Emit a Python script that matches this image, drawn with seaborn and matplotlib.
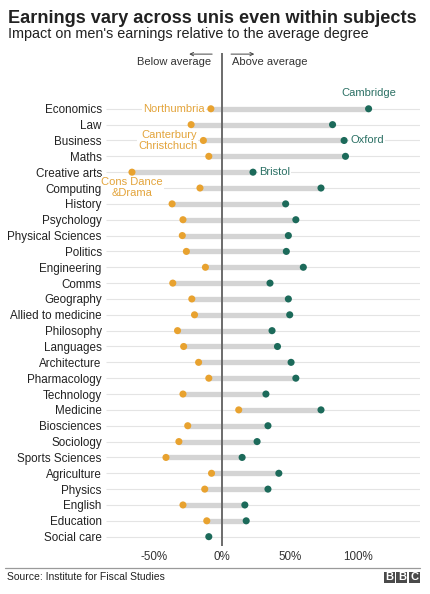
import numpy as np
import pandas as pd
import matplotlib
matplotlib.use("Agg")
from matplotlib import pyplot as plt
from matplotlib.patches import Rectangle
import seaborn as sns

# ---------------- DATA ---------------------------------------
subjects = ["Economics", "Law", "Business", "Maths", "Creative arts", "Computing",
            "History", "Psychology", "Physical Sciences", "Politics", "Engineering",
            "Comms", "Geography", "Allied to medicine", "Philosophy", "Languages",
            "Architecture", "Pharmacology", "Technology", "Medicine", "Biosciences",
            "Sociology", "Sports Sciences", "Agriculture", "Physics", "English",
            "Education", "Social care"]
lowest = [-8, -22.5, -13.5, -9.5, -66, -16, -36.5, -28.5, -29, -26, -12, -36,
          -22, -20, -32.5, -28, -17, -9.5, -28.5, 12.5, -25, -31.5, -41, -7.5,
          -12.5, -28.5, -11, np.nan]
highest = [108, 81.5, 90, 91, 23, 73, 47, 54.5, 49, 47.5, 60, 35.5, 49, 50, 37,
           41, 51, 54.5, 32.5, 73, 34, 26, 15, 42, 34, 17, 18, -9.5]
xticks = [-50, 0, 50, 100]
xticklabels = ["-50%", "0%", "50%", "100%"]

# uni names next to the lowest / highest dots
uni_labels_low = [("Northumbria", "Economics"), ("Canterbury\nChristchuch", "Business"),
                  ("Cons Dance\n&Drama", "Computing")]
uni_labels_high = [("Cambridge", "Economics"), ("Oxford", "Business"), ("Bristol", "Creative arts")]

# ---------------- COLORS ---------------------------------------
orange = "#E8A22F"
teal = "#1C6A5A"
orange_txt = "#E3A43B"
teal_txt = "#2B7064"
bar_grey = "#D4D4D4"
grid_grey = "#E4E4E4"

sns.set_style("white")
plt.rcParams["font.family"] = ["Liberation Sans", "DejaVu Sans"]

df = pd.DataFrame({"subject": subjects, "low": lowest, "high": highest})
df["row"] = np.arange(len(df))
melted = pd.melt(df, id_vars=["subject", "row"], value_vars=["low", "high"],
                 var_name="end", value_name="value").dropna()

fig = plt.figure(figsize=(4.3, 5.94), dpi=100)
ax = fig.add_axes([106 / 430, 1 - 545.7 / 594, 314 / 430, (545.7 - 53) / 594])

xmin, xmax = -85.1, 145.8
ax.hlines(df["row"], xmin, xmax, color=grid_grey, lw=0.8, zorder=1)
both = df.dropna()
ax.hlines(both["row"], both["low"], both["high"], color=bar_grey, lw=3.8, zorder=2)
ax.axvline(0, color="#6B6B6B", lw=1.4, zorder=3)
sns.scatterplot(data=melted, x="value", y="row", hue="end", palette={"low": orange, "high": teal},
                s=26, linewidth=0, legend=False, zorder=4, ax=ax)

ax.set_xlim(xmin, xmax)
ax.set_ylim(27.57, -3.52)
ax.set_yticks(df["row"])
ax.set_yticklabels(subjects, fontsize=8.4, color="#222222")
ax.set_xticks(xticks)
ax.set_xticklabels(xticklabels, fontsize=8.4, color="#333333")
ax.tick_params(length=0, pad=3)
ax.tick_params(axis="x", pad=4)
ax.set_xlabel("")
ax.set_ylabel("")
sns.despine(ax=ax, left=True, bottom=True)

# uni labels
box = dict(facecolor="white", edgecolor="none", pad=0.6)
row_of = dict(zip(subjects, df["row"]))
low_of = dict(zip(subjects, lowest))
high_of = dict(zip(subjects, highest))
for txt, subj in uni_labels_low:
    r = row_of[subj]
    if "Cons" in txt:
        ax.text(-65.9, r - 0.05, txt, ha="center", va="center", fontsize=8, color=orange_txt,
                linespacing=1.15, bbox=box, zorder=5)
    else:
        ax.text(low_of[subj] - 4.5, r, txt, ha="right", va="center", fontsize=8, color=orange_txt,
                linespacing=1.1, bbox=box, zorder=5)
for txt, subj in uni_labels_high:
    r = row_of[subj]
    if txt == "Cambridge":
        ax.text(high_of[subj], r - 1.0, txt, ha="center", va="center", fontsize=8, color=teal_txt)
    else:
        ax.text(high_of[subj] + 4.5, r, txt, ha="left", va="center", fontsize=8, color=teal_txt,
                bbox=box, zorder=5)

# direction arrows
arr = dict(arrowstyle="->", lw=0.7, color="#444444", mutation_scale=6)
ax.annotate("", xy=(-26, -3.45), xytext=(-5, -3.45), arrowprops=arr, annotation_clip=False)
ax.annotate("", xy=(26, -3.45), xytext=(4.8, -3.45), arrowprops=arr, annotation_clip=False)
ax.text(-7.6, -2.95, "Below average", ha="right", va="center", fontsize=8, color="#333333")
ax.text(7.8, -2.95, "Above average", ha="left", va="center", fontsize=8, color="#333333")

# titles
fig.text(8 / 430, 1 - 23.3 / 594, "Earnings vary across unis even within subjects",
         fontsize=13.1, fontweight="bold", color="#222222", va="baseline")
fig.text(8 / 430, 1 - 38.3 / 594, "Impact on men's earnings relative to the average degree",
         fontsize=10.35, color="#222222", va="baseline")

# footer
fig.add_artist(plt.Line2D([5 / 430, 420 / 430], [1 - 568.3 / 594] * 2, color="#9A9A9A", lw=0.9))
fig.text(7 / 430, 1 - 577 / 594, "Source: Institute for Fiscal Studies", fontsize=7.5,
         color="#222222", va="center")
for i, letter in enumerate("BBC"):
    x0 = (384 + i * 12.3) / 430
    fig.add_artist(Rectangle((x0, 1 - 582.7 / 594), 11 / 430, 11 / 594,
                             transform=fig.transFigure, facecolor="#4A4A4A", edgecolor="none"))
    fig.text(x0 + 5.5 / 430, 1 - 577.4 / 594, letter, fontsize=8, fontweight="bold",
             color="white", ha="center", va="center")

fig.savefig("out.png", dpi=100, facecolor="white")
